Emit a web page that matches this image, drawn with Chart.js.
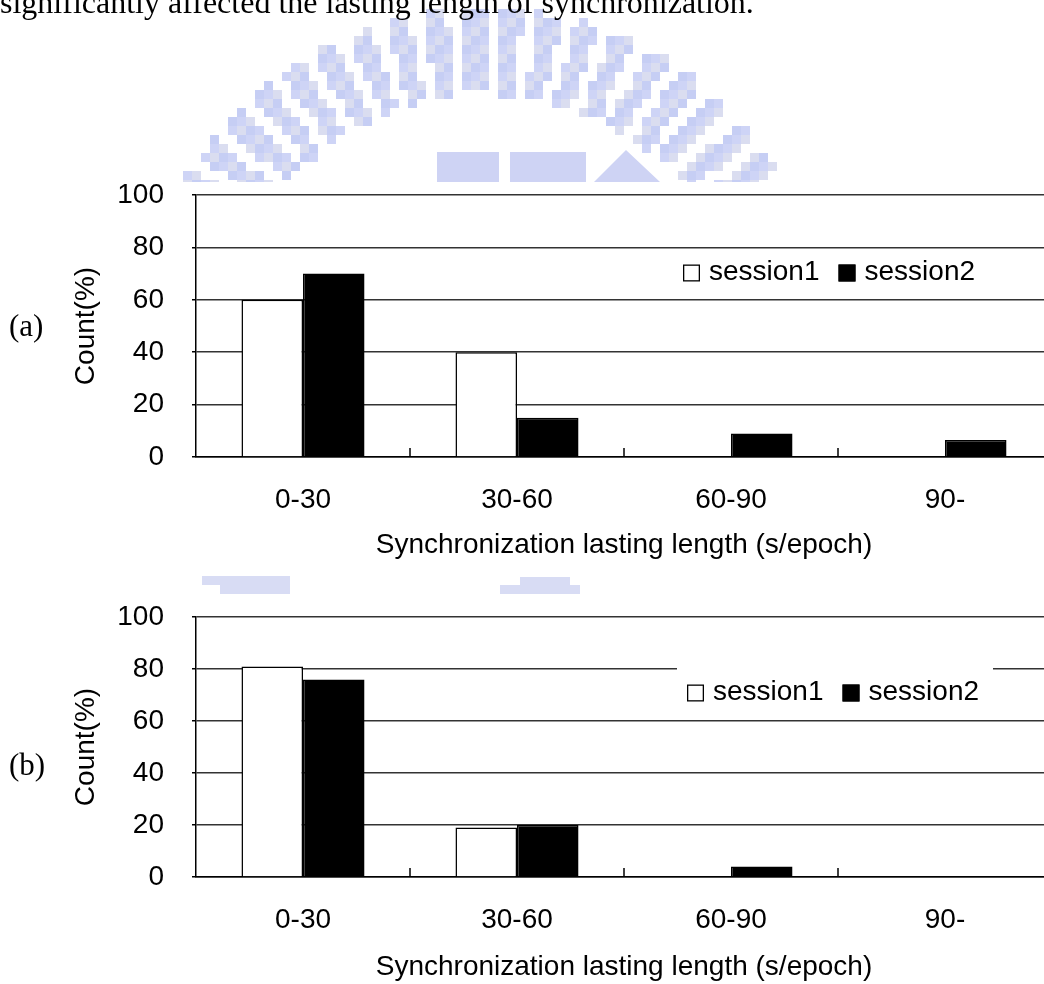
<!DOCTYPE html>
<html>
<head>
<meta charset="utf-8">
<script src="https://cdn.jsdelivr.net/npm/chart.js@4.4.0/dist/chart.umd.min.js"></script>
<style>
  html, body { margin: 0; padding: 0; background: #fff; }
  #page { position: relative; width: 1044px; height: 984px; overflow: hidden; background: #fff; }
  canvas { position: absolute; left: 0; }
  #mark { top: 0; }
  .sheet { position: absolute; left: 0; width: 1044px; background: #fff; }
  #topline { position: absolute; left: 0; top: -14px; font-size: 32px; line-height: 32px;
             font-family: "Liberation Serif", "Times New Roman", serif; white-space: nowrap; color: #000; }
  .tag { position: absolute; left: 9px; font-size: 31px; line-height: 31px;
         font-family: "Liberation Serif", "Times New Roman", serif; color: #000; }
</style>
</head>
<body>
<div id="page">
  <canvas id="mark" width="1044" height="984"></canvas>
  <div id="topline">significantly affected the lasting length of synchronization.</div>
  <div class="sheet" style="top:182px;height:380px"></div>
  <div class="sheet" style="top:600px;height:384px"></div>
  <canvas id="chartA" width="1070" height="400" style="top:170px"></canvas>
  <canvas id="chartB" width="1070" height="394" style="top:590px"></canvas>
  <div class="tag" style="top:310px">(a)</div>
  <div class="tag" style="top:749px">(b)</div>
</div>
<script>
var categories = ['0-30', '30-60', '60-90', '90-'];
var seriesNames = ['session1', 'session2'];

// (a)
var session1A = [60, 40, 0, 0];
var session2A = [70, 15, 9, 6.5];

// (b)
var session1B = [81, 19, 0, 0];
var session2B = [76, 20, 4, 0];

var xTitle = 'Synchronization lasting length (s/epoch)';
var yTitle = 'Count(%)';

var FONT = "'Liberation Sans', Arial, sans-serif";

// faint logo stamped on the page behind the figures
function drawMark() {
  var ctx = document.getElementById('mark').getContext('2d');
  var cell = 9, cx = 485, cy = 356, rIn = 262, rOut = 348;
  var shades = ['rgb(206,212,246)', 'rgb(218,221,240)', 'rgb(198,206,244)'];
  for (var gy = 0; gy < 182; gy += cell) {
    for (var gx = 120; gx < 860; gx += cell) {
      var dx = gx + cell / 2 - cx, dy = gy + cell / 2 - cy;
      var r = Math.sqrt(dx * dx + dy * dy);
      if (r < rIn || r > rOut) continue;
      var a = Math.atan2(dx, -dy) * 180 / Math.PI;
      var k = (a + 180 + 3.2) % 6.4;
      if (k > 4.0) continue;
      ctx.fillStyle = shades[((gx / cell) + (gy / cell)) % 3 | 0];
      ctx.fillRect(gx, gy, cell, cell);
    }
  }
  ctx.fillStyle = 'rgb(206,211,244)';
  ctx.fillRect(437, 152, 62, 30);
  ctx.fillRect(510, 152, 76, 30);
  ctx.beginPath();
  ctx.moveTo(594, 182); ctx.lineTo(626, 150); ctx.lineTo(660, 182); ctx.fill();
  ctx.fillStyle = 'rgb(216,220,244)';
  ctx.fillRect(202, 576, 88, 9);
  ctx.fillRect(220, 585, 70, 9);
  ctx.fillRect(500, 585, 80, 9);
  ctx.fillRect(520, 577, 50, 8);
}

// small upward ticks between categories
var innerTicks = {
  id: 'innerTicks',
  afterDatasetsDraw: function(chart) {
    var x = chart.scales.x, area = chart.chartArea, ctx = chart.ctx;
    ctx.save();
    ctx.strokeStyle = '#000';
    ctx.lineWidth = 1.5;
    for (var i = 1; i <= categories.length; i++) {
      var px = (x.getPixelForValue(i - 1) + x.getPixelForValue(i)) / 2;
      ctx.beginPath();
      ctx.moveTo(px, area.bottom);
      ctx.lineTo(px, area.bottom - 9);
      ctx.stroke();
    }
    ctx.restore();
  }
};

// legend drawn inside the plot on a white box
var boxLegend = {
  id: 'boxLegend',
  afterDraw: function(chart, args, opts) {
    var ctx = chart.ctx;
    ctx.save();
    ctx.fillStyle = '#fff';
    ctx.fillRect(opts.x - 10, opts.y - opts.padTop, 316, opts.padTop + 24);
    ctx.font = '28px ' + FONT;
    ctx.textBaseline = 'middle';
    var x = opts.x;
    chart.data.datasets.forEach(function(ds) {
      ctx.fillStyle = ds.backgroundColor;
      ctx.fillRect(x, opts.y - 7.5, 17, 17);
      ctx.strokeStyle = ds.borderColor;
      ctx.lineWidth = 1.3;
      ctx.strokeRect(x + 0.65, opts.y - 6.85, 15.7, 15.7);
      x += 17 + 9;
      ctx.fillStyle = '#000';
      ctx.fillText(ds.label, x, opts.y);
      x += ctx.measureText(ds.label).width + 19;
    });
    ctx.restore();
  }
};

function makeChart(id, s1, s2, cfg) {
  var font = { family: FONT, size: 28 };
  return new Chart(document.getElementById(id), {
    type: 'bar',
    data: {
      labels: categories,
      datasets: [
        { label: seriesNames[0], data: s1, backgroundColor: '#ffffff', borderColor: '#000000',
          borderWidth: 1.5, borderSkipped: 'start', categoryPercentage: 0.575, barPercentage: 1 },
        { label: seriesNames[1], data: s2, backgroundColor: '#000000', borderColor: '#000000',
          borderWidth: 1.5, borderSkipped: 'start', categoryPercentage: 0.575, barPercentage: 1 }
      ]
    },
    options: {
      responsive: false,
      animation: false,
      devicePixelRatio: 1,
      layout: { padding: { top: cfg.top, right: 18, left: 0, bottom: 0 } },
      plugins: {
        legend: { display: false },
        tooltip: { enabled: false },
        boxLegend: cfg.legend
      },
      scales: {
        x: {
          grid: { drawOnChartArea: false, drawTicks: false },
          border: { display: true, color: '#000', width: 1.5 },
          ticks: { color: '#000', font: font, padding: 26, maxRotation: 0 },
          title: { display: true, text: xTitle, color: '#000', font: font, padding: { top: 0, bottom: cfg.titlePad } },
          afterFit: function(s) { s.height = cfg.xHeight; }
        },
        y: {
          min: 0,
          max: 100,
          ticks: { stepSize: 20, color: '#000', font: font, padding: 28 },
          grid: { color: '#333', lineWidth: 1.5, tickLength: 4, tickColor: '#000' },
          border: { display: true, color: '#000', width: 1.5 },
          title: { display: true, text: yTitle, color: '#000', font: font, padding: { top: 69, bottom: 0 } },
          afterFit: function(s) {
            s.width = 196;
            // the top label may overhang; layout padding alone sets the plot top
            s.paddingTop = 0;
            s.paddingBottom = 0;
          }
        }
      }
    },
    plugins: [innerTicks, boxLegend]
  });
}

drawMark();
makeChart('chartA', session1A, session2A,
  { top: 25, xHeight: 113, titlePad: 8, legend: { x: 683, y: 102, padTop: 22 } });
makeChart('chartB', session1B, session2B,
  { top: 27, xHeight: 107, titlePad: 0, legend: { x: 687, y: 102, padTop: 28 } });
</script>
</body>
</html>
